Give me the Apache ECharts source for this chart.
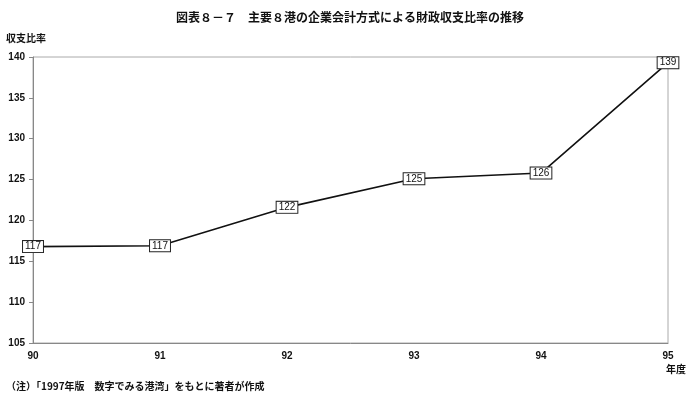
<!DOCTYPE html>
<html><head><meta charset="utf-8">
<script src="https://cdn.jsdelivr.net/npm/echarts@6/dist/echarts.min.js"></script>
<style>html,body{margin:0;padding:0;background:#fff}#c{width:700px;height:405px}</style>
</head><body><div id="c"></div>
<script>
const categories = ['90','91','92','93','94','95'];
const values = [116.8, 116.9, 121.6, 125.1, 125.8, 139.3];
const labels = ['117','117','122','125','126','139'];
const font = '"Noto Sans CJK JP", sans-serif';
const chart = echarts.init(document.getElementById('c'));
chart.setOption({
  animation:false,
  title:{text:'図表８－７　主要８港の企業会計方式による財政収支比率の推移',left:'center',top:6,
    textStyle:{fontFamily:font,fontSize:12,fontWeight:'bold',color:'#111'}},
  graphic:[
    {type:'text',left:6,top:33,style:{text:'収支比率',font:'bold 10px '+font,fill:'#111'}},
    {type:'text',right:14,top:364,style:{text:'年度',font:'bold 10px '+font,fill:'#111'}},
    {type:'text',left:6,top:381,style:{text:'（注）「1997年版　数字でみる港湾」をもとに著者が作成',font:'bold 10px '+font,fill:'#111'}}
  ],
  grid:{left:33,right:32,top:57,bottom:62,show:true,borderColor:'#aaa',borderWidth:1},
  xAxis:{type:'category',data:categories,boundaryGap:false,
    axisLine:{lineStyle:{color:'#888'}},axisTick:{show:false},
    axisLabel:{fontFamily:'Arial',fontWeight:'bold',fontSize:10,color:'#111',margin:8}},
  yAxis:{type:'value',min:105,max:140,interval:5,
    axisLine:{show:true,lineStyle:{color:'#888'}},axisTick:{show:true,inside:false,length:4,lineStyle:{color:'#888'}},
    splitLine:{show:false},
    axisLabel:{fontFamily:'Arial',fontWeight:'bold',fontSize:10,color:'#111',margin:8}},
  series:[{type:'line',data:values,symbol:'circle',symbolSize:1,showSymbol:true,
    itemStyle:{color:'#111'},lineStyle:{color:'#111',width:1.6},
    label:{show:true,position:'inside',formatter:p=>labels[p.dataIndex],
      fontFamily:'Arial',fontSize:10,color:'#111',backgroundColor:'#fff',
      borderColor:'#222',borderWidth:1,padding:[1,2,0,2]}}]
});
</script></body></html>
